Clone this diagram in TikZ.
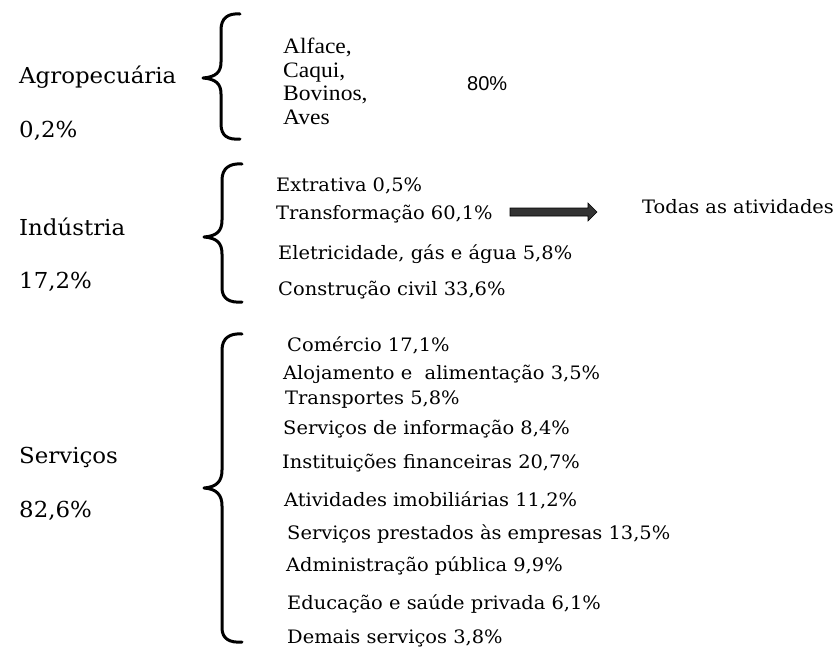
\documentclass[tikz,border=0pt]{standalone}
\usepackage{fontspec}
\setmainfont{DejaVu Serif}
\newfontfamily\bigf[FakeStretch=1.04]{DejaVu Serif}
\newfontfamily\medf[FakeStretch=1.05]{DejaVu Serif}
\newfontfamily\timesf[FakeStretch=1.07]{Liberation Serif}
\newfontfamily\arialf{Liberation Sans}
\begin{document}
\begin{tikzpicture}[x=1pt,y=-1pt,
  txt/.style={inner sep=0pt,anchor=base west},
  big/.style={txt,font=\bigf\fontsize{22}{24}\selectfont},
  med/.style={txt,font=\medf\fontsize{18.5}{20}\selectfont},
  tms/.style={txt,font=\timesf\fontsize{22}{24}\selectfont},
  bracestyle/.style={line width=3pt,line cap=round,line join=round},
  arrowfill/.style={fill=black!80,draw=black,line width=0.6pt}]
\useasboundingbox (0,0) rectangle (839,649);
% left labels
\node[big] (agro) at (19,83) {Agropecuária};
\node[big] (agrop) at (19,137) {0,2\%};
\node[big] (ind) at (19,235) {Indústria};
\node[big] (indp) at (19,288) {17,2\%};
\node[big] (serv) at (19,463) {Serviços};
\node[big] (servp) at (19,517) {82,6\%};
% braces
\draw[bracestyle] (240,14) .. controls (228,13) and (221,18) .. (221,30) -- (221,62)
  .. controls (221,72) and (216,77) .. (203,78) .. controls (216,79) and (221,84) .. (221,94)
  -- (221,124) .. controls (221,136) and (228,140) .. (240,139);
\draw[bracestyle] (242,164) .. controls (230,163) and (222,168) .. (222,180) -- (222,220)
  .. controls (222,231) and (217,236) .. (204,237) .. controls (217,238) and (222,243) .. (222,254)
  -- (222,288) .. controls (222,299) and (230,303) .. (242,302);
\draw[bracestyle] (242,334) .. controls (230,333) and (222,338) .. (222,350) -- (222,470)
  .. controls (222,481) and (217,487) .. (204,488) .. controls (217,489) and (222,495) .. (222,506)
  -- (222,628) .. controls (222,639) and (230,643) .. (242,642);
% agro items
\node[tms] (alf) at (283,53) {Alface,};
\node[tms] (caq) at (283,77) {Caqui,};
\node[tms] (bov) at (283,100) {Bovinos,};
\node[tms] (ave) at (283,124) {Aves};
\node[txt,font=\arialf\fontsize{20}{24}\selectfont] (p80) at (467,90) {80\%};
% industry items
\node[med] (ext) at (276,191) {Extrativa 0,5\%};
\node[med] (tra) at (276,219) {Transformação 60,1\%};
\node[med] (ele) at (278,259) {Eletricidade, gás e água 5,8\%};
\node[med] (con) at (278,295) {Construção civil 33,6\%};
\node[med] (tod) at (642,213) {Todas as atividades};
% arrow
\coordinate (aS) at (510,212);
\coordinate (aE) at (597,212);
\draw[arrowfill] (510,208) -- (588,208) -- (588,203) -- (aE) -- (588,221) -- (588,216) -- (510,216) -- cycle;
% services items
\node[med] (s1) at (287,351) {Comércio 17,1\%};
\node[med] (s2) at (283,379) {Alojamento e\ \ alimentação 3,5\%};
\node[med] (s3) at (285,404) {Transportes 5,8\%};
\node[med] (s4) at (283,434) {Serviços de informação 8,4\%};
\node[med] (s5) at (282,468) {Instituições financeiras 20,7\%};
\node[med] (s6) at (284,506) {Atividades imobiliárias 11,2\%};
\node[med] (s7) at (287,539) {Serviços prestados às empresas 13,5\%};
\node[med] (s8) at (286,571) {Administração pública 9,9\%};
\node[med] (s9) at (287,609) {Educação e saúde privada 6,1\%};
\node[med] (s10) at (287,643) {Demais serviços 3,8\%};
\end{tikzpicture}
\end{document}
